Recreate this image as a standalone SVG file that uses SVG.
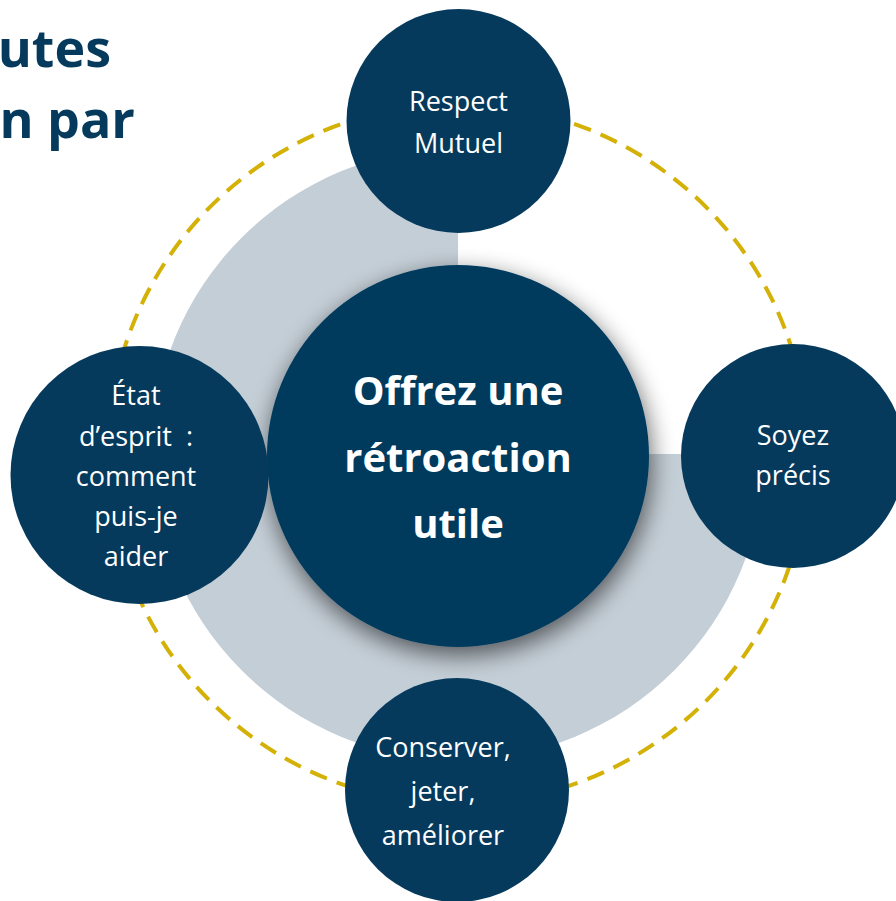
<svg xmlns="http://www.w3.org/2000/svg" width="896" height="901" viewBox="0 0 896 901">
<defs>
<style>
.node{fill:#053a5d;}
.lbl{font-family:"Open Sans","Liberation Sans",sans-serif;font-size:27px;fill:#ffffff;text-anchor:middle;}
.ctr{font-family:"Open Sans","Liberation Sans",sans-serif;font-size:40px;font-weight:700;fill:#ffffff;text-anchor:middle;}
.title{font-family:"Open Sans","Liberation Sans",sans-serif;font-size:52px;font-weight:700;fill:#053a5d;text-anchor:end;}
</style>
<filter id="sh" x="-30%" y="-30%" width="160%" height="160%">
<feGaussianBlur in="SourceAlpha" stdDeviation="12"/>
<feOffset dx="2" dy="8" result="b"/>
<feComponentTransfer><feFuncA type="linear" slope="0.6"/></feComponentTransfer>
<feMerge><feMergeNode/><feMergeNode in="SourceGraphic"/></feMerge>
</filter>
</defs>
<rect width="896" height="901" fill="#ffffff"/>
<g id="title">
<text class="title" x="111" y="67">utes</text>
<text class="title" x="135" y="138">n par</text>
</g>
<g id="background">
<path d="M458,454 L458,148 A306,306 0 1,0 764,454 Z" fill="#c4ced6"/>
</g>
<g id="connectors">
<circle cx="458" cy="454" r="350" fill="none" stroke="#d4b106" stroke-width="4" stroke-dasharray="18 10.5"/>
</g>
<g id="center">
<circle class="node" cx="458" cy="456" r="191" filter="url(#sh)"/>
<text class="ctr" x="458" y="405">Offrez une</text>
<text class="ctr" x="458" y="472">rétroaction</text>
<text class="ctr" x="458" y="538">utile</text>
</g>
<g id="node-top">
<circle class="node" cx="458.5" cy="121" r="112"/>
<text class="lbl" x="458.5" y="111">Respect</text>
<text class="lbl" x="458.5" y="153">Mutuel</text>
</g>
<g id="node-right">
<circle class="node" cx="793" cy="456" r="112"/>
<text class="lbl" x="793" y="445">Soyez</text>
<text class="lbl" x="793" y="485">précis</text>
</g>
<g id="node-bottom">
<circle class="node" cx="457" cy="790" r="112"/>
<text class="lbl" x="443" y="757">Conserver,</text>
<text class="lbl" x="443" y="801">jeter,</text>
<text class="lbl" x="443" y="845">améliorer</text>
</g>
<g id="node-left">
<circle class="node" cx="139.5" cy="475" r="129"/>
<text class="lbl" x="136" y="405">État</text>
<text class="lbl" x="136" y="446">d’esprit &#160;:</text>
<text class="lbl" x="136" y="486">comment</text>
<text class="lbl" x="136" y="526">puis-je</text>
<text class="lbl" x="136" y="566">aider</text>
</g>
</svg>
